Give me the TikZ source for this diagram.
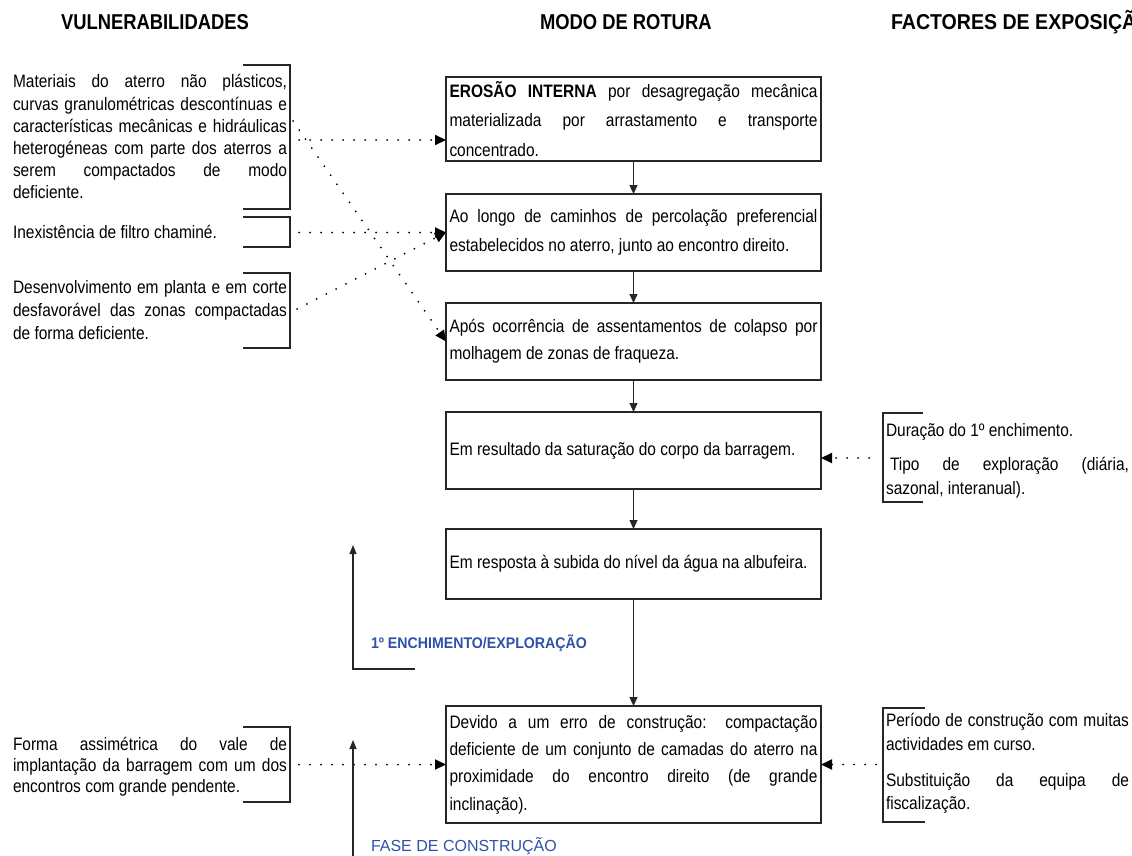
\documentclass[tikz,border=0pt]{standalone}
\usepackage{fontspec}
\setmainfont{Liberation Sans}[FakeStretch=0.86]
\newfontfamily\headfont{Liberation Sans}[FakeStretch=0.855]
\newfontfamily\headwidefont{Liberation Sans}[FakeStretch=0.91]
\newfontfamily\phasefont{Liberation Sans}[FakeStretch=0.92]
\newfontfamily\widefont{Liberation Sans}
\usetikzlibrary{arrows.meta}
\definecolor{phaseblue}{RGB}{46,82,168}
\hbadness=10000
\hfuzz=8pt

\begin{document}
\begin{tikzpicture}[x=1pt,y=-1pt,
  every node/.style={inner sep=0pt, outer sep=0pt},
  headtext/.style={anchor=base west, font=\headfont\bfseries\fontsize{21.5}{24}\selectfont},
  modebox/.style={draw=black!85, line width=1.2pt, text width=368pt, inner xsep=3.5pt,
    minimum width=375pt, align=justify},
  modefont/.style={font=\fontsize{18}{#1}\selectfont},
  sidetext/.style={text width=274pt, align=justify, anchor=base west},
  righttext/.style={text width=243pt, align=justify, anchor=base west},
  sidefont/.style={font=\fontsize{18}{#1}\selectfont},
  bracket/.style={draw=black!85, line width=1.2pt},
  flow/.style={draw=black!85, line width=1.2pt, -{Triangle[length=9pt,width=8pt]}},
  dotlink/.style={draw=black, line width=2pt, line cap=round, dash pattern=on 0pt off 11pt,
    -{Triangle[length=11pt,width=10pt]}},
  phase/.style={draw=black!85, line width=1.2pt, -{Triangle[length=9pt,width=7pt]}},
  phaselabel/.style={anchor=base west, text=phaseblue}
]
\useasboundingbox (0,0) rectangle (1132,856);
\clip (0,0) rectangle (1132,856);

% column headings
\node[headtext] (hv) at (61,30) {VULNERABILIDADES};
\node[headtext] (hm) at (540,30) {MODO DE ROTURA};
\node[headtext, font=\headwidefont\bfseries\fontsize{21.5}{24}\selectfont] (hf) at (891,30)
  {FACTORES DE EXPOSIÇÃO};

% failure mode chain
\node[modebox, modefont=29.5, minimum height=84pt] (m1) at (633.5,119)
  {\textbf{EROSÃO INTERNA} por desagregação mecânica\linebreak materializada por arrastamento e transporte\linebreak concentrado.};
\node[modebox, modefont=28.5, minimum height=77pt] (m2) at (633.5,232.5)
  {Ao longo de caminhos de percolação preferencial\linebreak estabelecidos no aterro, junto ao encontro direito.};
\node[modebox, modefont=27, minimum height=77pt] (m3) at (633.5,341.5)
  {Após ocorrência de assentamentos de colapso por\linebreak molhagem de zonas de fraqueza.};
\node[modebox, modefont=27, minimum height=77pt] (m4) at (633.5,450.5)
  {Em resultado da saturação do corpo da barragem.};
\node[modebox, modefont=27, minimum height=70pt] (m5) at (633.5,564)
  {Em resposta à subida do nível da água na albufeira.};
\node[modebox, modefont=27.3, minimum height=117pt] (m6) at (633.5,764.5)
  {Devido a um erro de construção: compactação\linebreak deficiente de um conjunto de camadas do aterro na\linebreak proximidade do encontro direito (de grande\linebreak inclinação).};

\draw[flow] (m1) -- (m2);
\draw[flow] (m2) -- (m3);
\draw[flow] (m3) -- (m4);
\draw[flow] (m4) -- (m5);
\draw[flow] (m5) -- (m6);

% vulnerabilities
\node[sidetext, sidefont=22.2] (l1) at (13,88)
  {Materiais do aterro não plásticos,\linebreak curvas granulométricas descontínuas e\linebreak características mecânicas e hidráulicas\linebreak heterogéneas com parte dos aterros a\linebreak serem compactados de modo\linebreak deficiente.};
\draw[bracket] (243,65) -- (290,65) -- (290,209) -- (243,209);

\node[sidetext, sidefont=22] (l2) at (13,238) {Inexistência de filtro chaminé.};
\draw[bracket] (243,217) -- (290,217) -- (290,247) -- (243,247);

\node[sidetext, sidefont=23] (l3) at (13,293)
  {Desenvolvimento em planta e em corte\linebreak desfavorável das zonas compactadas\linebreak de forma deficiente.};
\draw[bracket] (243,273) -- (290,273) -- (290,348) -- (243,348);

\node[sidetext, sidefont=21] (l4) at (13,750)
  {Forma assimétrica do vale de\linebreak implantação da barragem com um dos\linebreak encontros com grande pendente.};
\draw[bracket] (243,727) -- (290,727) -- (290,802) -- (243,802);

% exposure factors
\node[righttext, sidefont=23.5] (r1a) at (886,436.5) {Duração do 1º enchimento.};
\node[righttext, sidefont=23.5] (r1b) at (886,470.5)
  {\hspace*{4pt}Tipo de exploração (diária,\linebreak sazonal, interanual).};
\draw[bracket] (923,413) -- (883,413) -- (883,502) -- (923,502);

\node[righttext, sidefont=23.3] (r2a) at (886,726.7)
  {Período de construção com muitas\linebreak actividades em curso.};
\node[righttext, sidefont=22.6] (r2b) at (886,786.7)
  {Substituição da equipa de\linebreak fiscalização.};
\draw[bracket] (925,708) -- (883,708) -- (883,822) -- (925,822);

% dotted influence links
\coordinate (s1) at (299,140);
\coordinate (s1d) at (293,121);
\coordinate (s2) at (299,232.5);
\coordinate (s3) at (297,309);
\coordinate (s4) at (299,764.5);
\coordinate (t1) at (869,458);
\coordinate (t2) at (876,764.5);

\draw[dotlink] (s1) -- (s1 -| m1.west);
\draw[dotlink] (s1d) -- (m3.west);
\draw[dotlink] (s2) -- (m2.west);
\draw[dotlink] (s3) -- (m2.west);
\draw[dotlink] (t1) -- (t1 -| m4.east);
\draw[dotlink] (s4) -- (m6.west);
\draw[dotlink] (t2) -- (m6.east);

% phase markers
\coordinate (f1s) at (415,669);
\coordinate (f1c) at (353,669);
\coordinate (f1e) at (353,545);
\draw[phase] (f1s) -- (f1c) -- (f1e);
\coordinate (f2s) at (353,860);
\coordinate (f2e) at (353,740);
\draw[phase] (f2s) -- (f2e);

\node[phaselabel, font=\phasefont\bfseries\fontsize{15.4}{18}\selectfont] (ph1) at (371,648.5)
  {1º ENCHIMENTO/EXPLORAÇÃO};
\node[phaselabel, font=\widefont\fontsize{16}{19}\selectfont] (ph2) at (371,851.5)
  {FASE DE CONSTRUÇÃO};
\end{tikzpicture}
\end{document}
